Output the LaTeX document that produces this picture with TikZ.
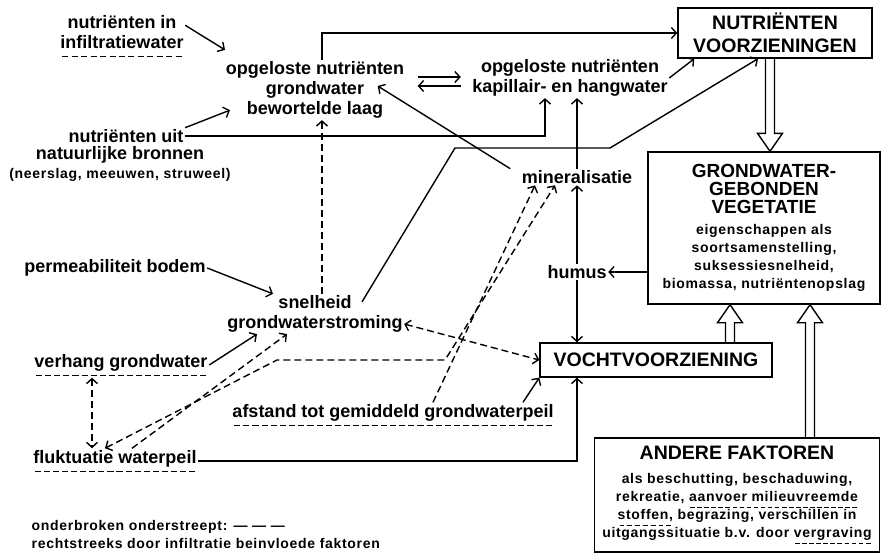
\documentclass[tikz,border=0pt]{standalone}
\usepackage{fontspec}
\setmainfont{Liberation Sans}
\newfontfamily\kleinfam[LetterSpace=5]{Liberation Sans}
\usetikzlibrary{arrows.meta,calc}

% lettertypen
\newcommand{\lettr}{\fontsize{18}{20}\selectfont\bfseries}
\newcommand{\klein}{\kleinfam\fontsize{14}{18}\selectfont\bfseries}
\newcommand{\titel}{\rmfamily\fontsize{19.5}{23}\selectfont\bfseries}
\newcommand{\titelg}{\rmfamily\fontsize{19}{19.5}\selectfont\bfseries}
% onderbroken onderstreept
\newcommand{\ondstr}[1]{\setbox0\hbox{#1}\leavevmode\rlap{\lower.5em\hbox to\wd0{%
  \xleaders\hbox to .5em{\hss\vrule height 1.2pt width .34em\hss}\hfill}}\copy0\relax}
% holle pijl van #1 naar #2
\newcommand{\holpijl}[2]{%
  \coordinate (hp-a) at #1; \coordinate (hp-b) at #2;
  \coordinate (hp-h) at ($(hp-b)!18pt!(hp-a)$);
  \draw[holrand] ($(hp-a)!4.5pt!90:(hp-b)$) -- ($(hp-h)!4.5pt!90:(hp-b)$)
    -- ($(hp-h)!12.5pt!90:(hp-b)$) -- (hp-b) -- ($(hp-h)!12.5pt!-90:(hp-b)$)
    -- ($(hp-h)!4.5pt!-90:(hp-b)$) -- ($(hp-a)!4.5pt!-90:(hp-b)$);}

\begin{document}
\begin{tikzpicture}[x=1pt, y=-1pt, line width=1.4pt,
  >={Straight Barb[length=5pt,width=11pt]},
  lbl/.style={font=\lettr, align=center, inner sep=1pt},
  kl/.style={font=\klein, align=center, inner sep=1pt},
  kader/.style={draw, line width=1.4pt, align=center, inner sep=2pt},
  stip/.style={dash pattern=on 7pt off 4pt},
  holrand/.style={line width=1.4pt, line join=miter}]
  \useasboundingbox (0,0) rectangle (881,554);

  % nutrienten
  \node[lbl] (inf) at (122,36) {nutriënten in\\\ondstr{infiltratiewater}};
  \node[lbl] (gwlaag) at (315,90) {opgeloste nutriënten\\grondwater\\bewortelde laag};
  \node[lbl] (kap) at (570,78) {opgeloste nutriënten\\kapillair- en hangwater};
  \node[kader, font=\titel, minimum width=194pt, minimum height=50pt] (nvz) at (775,33) {NUTRIËNTEN\\VOORZIENINGEN};
  \node[lbl] (uit1) at (126,136) {nutriënten uit};
  \node[lbl] (uit2) at (120,155) {natuurlijke bronnen};
  \node[kl] (uit3) at (120,175) {(neerslag, meeuwen, struweel)};
  \node[lbl] (min) at (577,177) {mineralisatie};
  \node[kader, font=\klein, minimum width=232pt, minimum height=152pt] (gvv) at (764,228)
    {\titelg GRONDWATER-\\\titelg GEBONDEN\\\titelg VEGETATIE\\[3pt] eigenschappen als\\soortsamenstelling,\\suksessiesnelheid,\\biomassa, nutriëntenopslag};

  % grondwater en vocht
  \node[lbl] (perm) at (115,268) {permeabiliteit bodem};
  \node[lbl] (humus) at (577,272) {humus};
  \node[lbl] (sgs) at (315,314) {snelheid\\grondwaterstroming};
  \node[lbl] (verh) at (121,365) {\ondstr{verhang grondwater}};
  \node[kader, font=\titel, minimum width=232pt, minimum height=34pt] (vocht) at (656,360) {VOCHTVOORZIENING};
  \node[lbl] (afst) at (393,415) {\ondstr{afstand tot gemiddeld grondwaterpeil}};
  \node[lbl] (fluk) at (115,461) {\ondstr{fluktuatie waterpeil}};
  \node[kader, font=\klein, minimum width=285pt, minimum height=114pt] (andere) at (737,495)
    {\titel ANDERE FAKTOREN\\[6pt] als beschutting, beschaduwing,\\rekreatie, \ondstr{aanvoer milieuvreemde}\\\ondstr{stoffen,} begrazing, verschillen in\\uitgangssituatie b.v. door \ondstr{vergraving}};
  \node[kl, align=left, anchor=north west] (leg) at (30,519) {onderbroken onderstreept: — — —\\rechtstreeks door infiltratie beinvloede faktoren};

  % pijlen naar de nutrienten
  \draw[->] ([yshift=-12pt]inf.north east) -- ([xshift=-90pt,yshift=10pt]gwlaag.north);
  \draw[->] (uit1.north east) -- ([xshift=-85pt,yshift=10pt]gwlaag.south);
  \draw[->] (uit1.east) -| ([xshift=-25pt]kap.south);
  \draw[->] ([xshift=7pt]gwlaag.north) |- (nvz.west);
  \draw[->, shorten <=12pt, shorten >=10pt] ([yshift=1pt]gwlaag.east |- kap.west) -- ([yshift=1pt]kap.west);
  \draw[->, shorten <=10pt, shorten >=12pt] ([yshift=-8pt]kap.west) -- ([yshift=-8pt]gwlaag.east |- kap.west);
  \draw[->] (kap.east) -- ([xshift=17pt]nvz.south west);
  \draw[->] ([xshift=47pt,yshift=-8pt]sgs.north) -- (455,148) -- (610,148) -- ([xshift=-17pt]nvz.south);
  \draw[->] ([xshift=-10pt]min.north west) -- ([xshift=-28pt,yshift=4pt]gwlaag.east);
  \draw[->] (min.north) -- (min.north |- kap.south);
  \draw[->] (humus.north) -- (min.south);
  \draw[->] (humus.south) -- (humus.south |- vocht.north);
  \draw[->] (gvv.west |- humus.east) -- (humus.east);

  % holle pijlen naar de vegetatie
  \holpijl{([xshift=-5pt]nvz.south)}{([xshift=-5pt]nvz.south |- gvv.north)}
  \holpijl{([xshift=74pt]vocht.north)}{([xshift=74pt]vocht.north |- gvv.south)}
  \holpijl{([xshift=73pt]andere.north)}{([xshift=73pt]andere.north |- gvv.south)}

  % grondwaterstroming en waterpeil
  \draw[->] (perm.east) -- ([xshift=-42pt]sgs.north);
  \draw[stip, ->] ([xshift=7pt]sgs.north) -- ([xshift=7pt]sgs.north |- gwlaag.south);
  \draw[stip, <->] ([yshift=-10pt]sgs.east) -- (vocht.west);
  \draw[->] (verh.east) -- ([xshift=-58pt]sgs.south);
  \draw[stip, ->] ([xshift=17pt]fluk.north) -- ([xshift=-28pt]sgs.south);
  \draw[stip, <->] ([xshift=-10pt]fluk.north) -- (277,360) -- (445,360) -- ([xshift=-22pt]min.south);
  \draw[stip, ->] ([xshift=40pt]afst.north) -- ([xshift=-42pt]min.south);
  \draw[stip, <->] ([xshift=-29pt]verh.south) -- ([xshift=-29pt]verh.south |- fluk.north);
  \draw[->] (fluk.east) -| ([xshift=-79pt]vocht.south);
  \draw[->] ([xshift=130pt]afst.north) -- (vocht.south west);
\end{tikzpicture}
\end{document}
